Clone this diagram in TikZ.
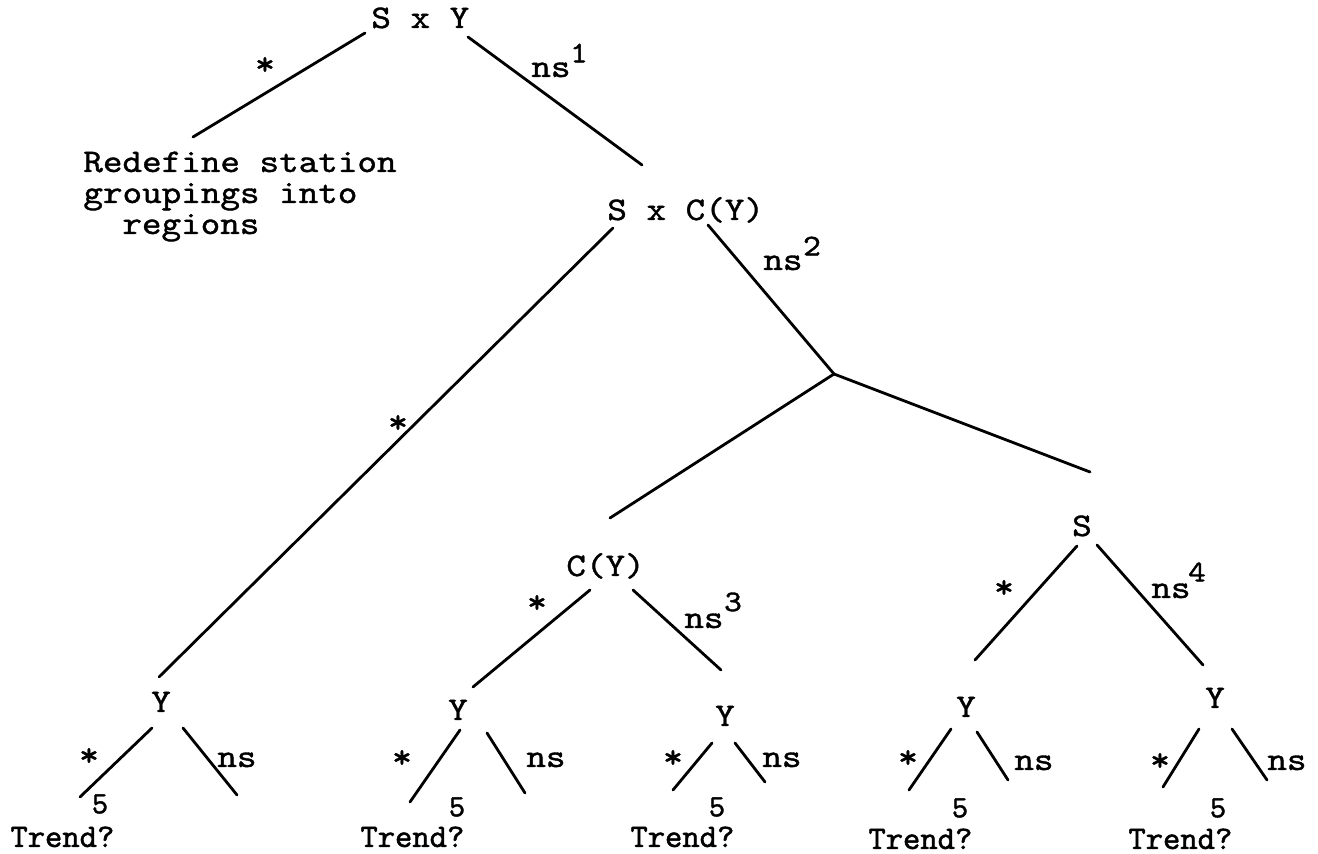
\documentclass[tikz,border=0pt]{standalone}
\usepackage{fontspec}
% typewriter faces for the tree labels
\newfontfamily\typewriter{lmmono10-regular.otf}[FakeBold=1.2, FakeStretch=1.13]
\newfontfamily\leaffont{lmmono10-regular.otf}[FakeBold=1.4]

\begin{document}
\begin{tikzpicture}[x=0.5pt,y=-0.5pt,
  branch/.style={line width=1.4pt, line cap=round},
  big/.style={inner sep=0pt, font=\fontsize{16.5}{19}\selectfont\typewriter},
  supnum/.style={inner sep=0pt, font=\fontsize{15}{17}\selectfont\typewriter},
  star/.style={inner sep=0pt, font=\fontsize{17}{19}\selectfont\typewriter},
  five/.style={inner sep=0pt, font=\fontsize{15.5}{17}\selectfont\leaffont},
  trend/.style={inner sep=0pt, anchor=base west, font=\fontsize{16.5}{18}\selectfont\leaffont},
]
\useasboundingbox (0,0) rectangle (1318,854);

% ---------- factor labels ----------
\node[big, anchor=base west] (sxy) at (371,28) {S x Y};
\node[big, anchor=base west] (rd1) at (83,172) {Redefine station};
\node[big, anchor=base west] (rd2) at (83,203) {groupings into};
\node[big, anchor=base west] (rd3) at (122,234) {regions};
\node[big, anchor=base west] (sxc) at (607,220) {S x C(Y)};
\node[big, anchor=base west] (cy)  at (566,576) {C(Y)};
\node[big, anchor=base] (s) at (1082,536) {S};
\node[big, anchor=base] (y1) at (161,712) {Y};
\node[big, anchor=base] (y2) at (458,720) {Y};
\node[big, anchor=base] (y3) at (725,726) {Y};
\node[big, anchor=base] (y4) at (966,717) {Y};
\node[big, anchor=base] (y5) at (1215,708) {Y};

% ---------- branch end points ----------
\coordinate (a1) at (365,33);   \coordinate (a2) at (193,137);
\coordinate (b1) at (468,37);   \coordinate (b2) at (642,165);
\coordinate (c1) at (613,228);  \coordinate (c2) at (159,677);
\coordinate (d1) at (708,225);  \coordinate (jn) at (834,374);
\coordinate (e2) at (610,518);  \coordinate (f2) at (1090,472);
\coordinate (g1) at (590,590);  \coordinate (g2) at (473,687);
\coordinate (h1) at (633,590);  \coordinate (h2) at (721,670);
\coordinate (i1) at (1077,546); \coordinate (i2) at (975,660);
\coordinate (k1) at (1097,545); \coordinate (k2) at (1203,665);
% leaves under each Y
\coordinate (p1a) at (152,728);  \coordinate (p1b) at (80,797);
\coordinate (q1a) at (183,728);  \coordinate (q1b) at (237,795);
\coordinate (p2a) at (460,730);  \coordinate (p2b) at (410,802);
\coordinate (q2a) at (487,733);  \coordinate (q2b) at (525,793);
\coordinate (p3a) at (712,743);  \coordinate (p3b) at (673,790);
\coordinate (q3a) at (735,743);  \coordinate (q3b) at (765,782);
\coordinate (p4a) at (951,729);  \coordinate (p4b) at (909,790);
\coordinate (q4a) at (977,732);  \coordinate (q4b) at (1008,780);
\coordinate (p5a) at (1199,729); \coordinate (p5b) at (1163,787);
\coordinate (q5a) at (1232,729); \coordinate (q5b) at (1267,780);

% ---------- branches ----------
\draw[branch] (a1) -- (a2);
\draw[branch] (b1) -- (b2);
\draw[branch] (c1) -- (c2);
\draw[branch] (d1) -- (jn);
\draw[branch] (jn) -- (e2);
\draw[branch] (jn) -- (f2);
\draw[branch] (g1) -- (g2);
\draw[branch] (h1) -- (h2);
\draw[branch] (i1) -- (i2);
\draw[branch] (k1) -- (k2);
\foreach \n in {1,...,5}{
  \draw[branch] (p\n a) -- (p\n b);
  \draw[branch] (q\n a) -- (q\n b);
}

% ---------- significance marks ----------
\node[star] (st0) at (265,66) {*};
\node[star] (stc) at (398,424) {*};
\node[star] (stcy) at (537,604) {*};
\node[star] (sts) at (1004,589) {*};
\node[star] (st1) at (89,757) {*};
\node[star] (st2) at (402,759) {*};
\node[star] (st3) at (673,759) {*};
\node[star] (st4) at (908,759) {*};
\node[star] (st5) at (1160,762) {*};

\node[big, anchor=base west] (ns1) at (531,77) {ns};
\node[supnum] (n1) at (579,53) {1};
\node[big, anchor=base west] (ns2) at (763,270) {ns};
\node[supnum] (n2) at (812,246) {2};
\node[big, anchor=base west] (ns3) at (684,628) {ns};
\node[supnum] (n3) at (733,602) {3};
\node[big, anchor=base west] (ns4) at (1151,598) {ns};
\node[supnum] (n4) at (1197,572) {4};

\node[big, anchor=base west] (nsy1) at (217,767) {ns};
\node[big, anchor=base west] (nsy2) at (526,767) {ns};
\node[big, anchor=base west] (nsy3) at (762,767) {ns};
\node[big, anchor=base west] (nsy4) at (1014,770) {ns};
\node[big, anchor=base west] (nsy5) at (1267,770) {ns};

% ---------- leaf notes ----------
\node[five] (f1) at (100,804) {5};
\node[five] (f2n) at (457,807) {5};
\node[five] (f3) at (717,807) {5};
\node[five] (f4) at (960,808) {5};
\node[five] (f5) at (1218,808) {5};

\node[trend] (t1) at (10,847) {Trend?};
\node[trend] (t2) at (360,847) {Trend?};
\node[trend] (t3) at (630,847) {Trend?};
\node[trend] (t4) at (868,849) {Trend?};
\node[trend] (t5) at (1128,849) {Trend?};
\end{tikzpicture}
\end{document}
